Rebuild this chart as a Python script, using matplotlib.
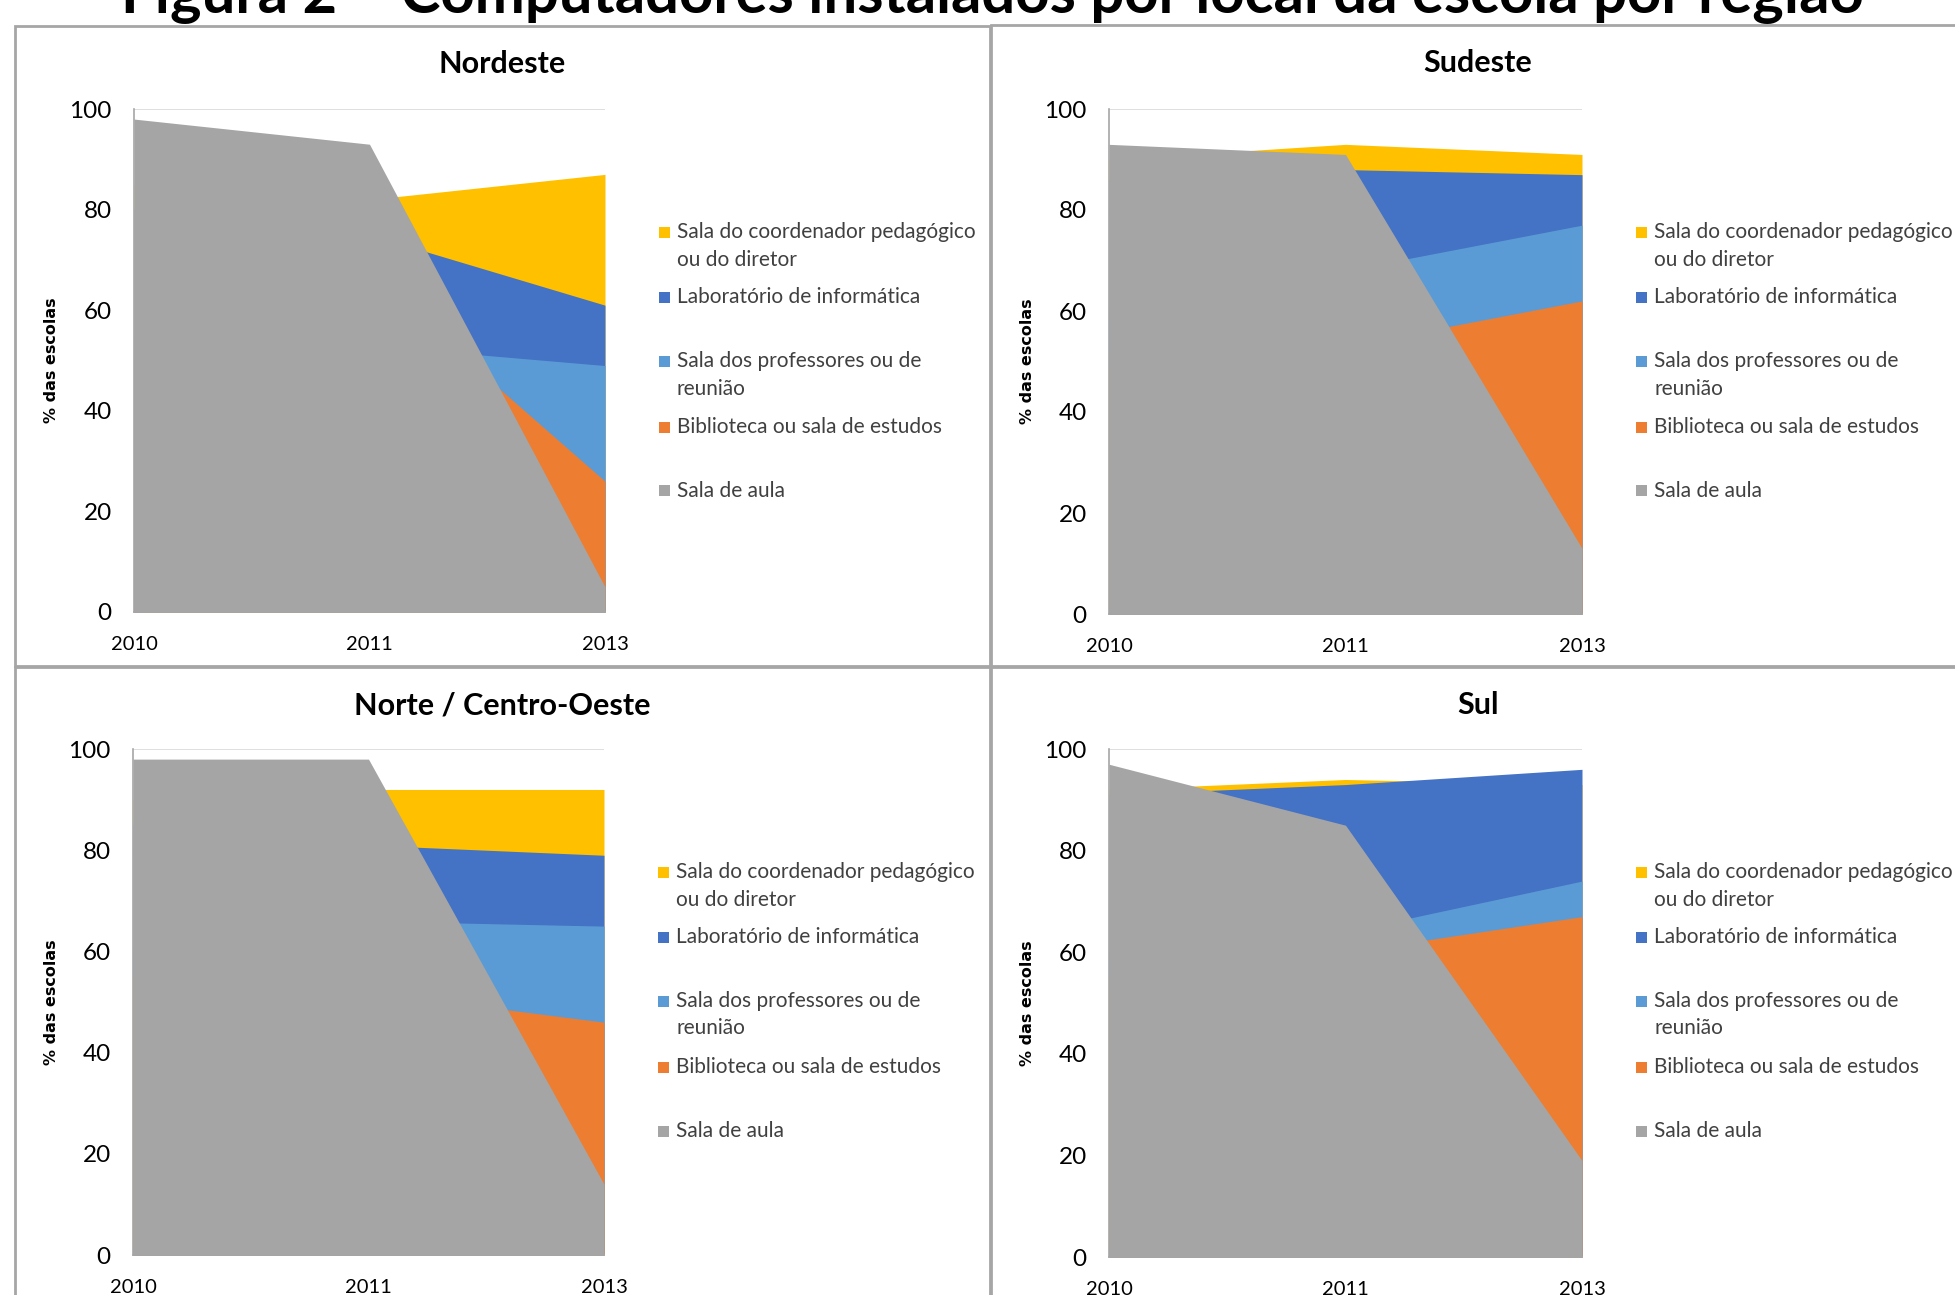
import matplotlib.pyplot as plt
from matplotlib.patches import Rectangle

W, H = 1955, 1295

anos = ['2010', '2011', '2013']

series_labels = ['Sala do coordenador pedagógico\nou do diretor',
                 'Laboratório de informática',
                 'Sala dos professores ou de\nreunião',
                 'Biblioteca ou sala de estudos',
                 'Sala de aula']
series_colors = ['#FFC000', '#4472C4', '#5B9BD5', '#ED7D31', '#A5A5A5']

# % das escolas, one list per local (coordenador, laboratório, professores, biblioteca, sala de aula)
nordeste = [[85, 82, 87], [80, 75, 61], [50, 53, 49], [55, 67, 26], [98, 93, 5]]
sudeste = [[90, 93, 91], [86, 88, 87], [60, 68, 77], [50, 53, 62], [93, 91, 13]]
norte_co = [[90, 92, 92], [85, 81, 79], [60, 66, 65], [55, 52, 46], [98, 98, 14]]
sul = [[92, 94, 93], [91, 93, 96], [60, 64, 74], [55, 60, 67], [97, 85, 19]]

regioes = ['Nordeste', 'Sudeste', 'Norte / Centro-Oeste', 'Sul']
dados = [nordeste, sudeste, norte_co, sul]

FONT = 'Lato'

fig = plt.figure(figsize=(W / 100, H / 100), dpi=100)


def fx(x):
    return x / W


def fy(y):
    return 1 - y / H


# chart frames (left, top, right, bottom in pixels)
frames = [(15, 26, 990, 666), (991, 25, 1965, 666),
          (15, 667, 990, 1305), (991, 667, 1965, 1305)]
# plot areas
boxes = [(134, 109, 605, 612), (1109, 109, 1582, 614),
         (133, 749, 604, 1255), (1109, 749, 1582, 1257)]

for (l, t, r, b) in frames:
    fig.patches.append(Rectangle((fx(l), fy(b)), (r - l) / W, (b - t) / H,
                                 transform=fig.transFigure, fill=False,
                                 edgecolor='#A6A6A6', linewidth=2))

fig.text(fx(992), fy(13), 'Figura 2 \u2013 Computadores instalados por local da escola por região',
         ha='center', va='baseline', fontsize=43, fontweight='bold', family=FONT)

leg_rows = [123, 188, 252, 318, 382]

for nome, vals, (l, t, r, b), (fl, ft, fr, fb) in zip(regioes, dados, boxes, frames):
    ax = fig.add_axes([fx(l), fy(b), (r - l) / W, (b - t) / H])
    x = range(len(anos))
    for v, c in zip(vals, series_colors):
        ax.fill_between(x, 0, v, color=c, linewidth=0)
    ax.set_xlim(0, 2)
    ax.set_ylim(0, 100)
    ax.set_yticks(range(0, 101, 20))
    ax.set_xticks(list(x))
    ax.set_xticklabels(anos)
    ax.grid(axis='y', color='#D9D9D9', linewidth=1.2)
    ax.set_axisbelow(True)
    for s in ['top', 'right']:
        ax.spines[s].set_visible(False)
    for s in ['left', 'bottom']:
        ax.spines[s].set_color('#A6A6A6')
        ax.spines[s].set_linewidth(1.2)
    ax.tick_params(axis='both', length=0)
    ax.tick_params(axis='y', pad=16, labelsize=17.5)
    ax.tick_params(axis='x', pad=17, labelsize=14.5)
    for lab in ax.get_xticklabels() + ax.get_yticklabels():
        lab.set_family(FONT)
    ax.text(-82 / (r - l), 0.5, '% das escolas', transform=ax.transAxes,
            rotation=90, ha='center', va='center', fontsize=11.5,
            fontweight='bold', family='DejaVu Sans')

    fig.text(fx((fl + fr) / 2), fy(ft + 38), nome, ha='center', va='center',
             fontsize=22, fontweight='bold', family=FONT)

    # legend on the right of the plot area
    for row, lab, c in zip(leg_rows, series_labels, series_colors):
        yc = t + row
        fig.patches.append(Rectangle((fx(r + 54), fy(yc + 5.5)), 11 / W, 11 / H,
                                     transform=fig.transFigure, color=c, linewidth=0))
        for k, line in enumerate(lab.split('\n')):
            fig.text(fx(r + 72), fy(yc + k * 27.5), line, ha='left', va='center',
                     fontsize=15, family=FONT, color='#404040')

fig.savefig('out.png', dpi=100)
